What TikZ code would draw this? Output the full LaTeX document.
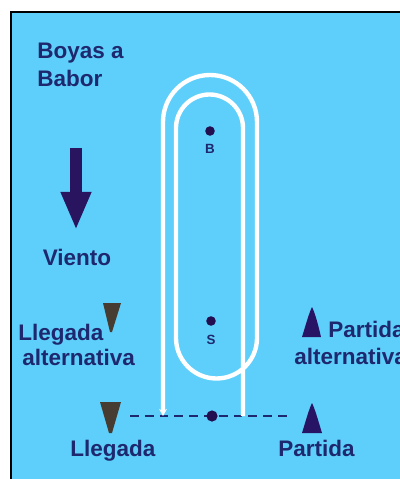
\documentclass[tikz,border=0pt]{standalone}
\usepackage{fontspec}
\setmainfont{Liberation Sans}
\usetikzlibrary{arrows.meta}
\begin{document}
\begin{tikzpicture}[x=0.025cm, y=-0.025cm,
  lbl/.style={text=navy, font=\bfseries\fontsize{16}{20}\selectfont,
    inner sep=0pt, align=left},
  tiny/.style={text=navy, font=\bfseries\fontsize{9.5}{10}\selectfont, inner sep=0pt},
  course/.style={draw=white, line width=3.1pt},
  buoy/.style={circle, fill=buoyc, inner sep=0pt, minimum size=0.24cm}]
\definecolor{sea}{RGB}{94,207,250}
\definecolor{navy}{RGB}{30,40,110}
\definecolor{windc}{RGB}{40,20,95}
\definecolor{buoyc}{RGB}{35,15,80}
\definecolor{llegc}{RGB}{70,60,50}
\definecolor{partc}{RGB}{40,20,100}

\useasboundingbox (0,0) rectangle (400,479);
\clip (0,0) rectangle (400,479);
\fill[white] (0,0) rectangle (400,479);
\draw[fill=sea, draw=black, line width=1.4pt] (11,12) rectangle (405,485);

\node[lbl, anchor=north west] (boyas) at (37,43) {Boyas a\\Babor};

\coordinate (windtop) at (76,148);
\coordinate (windtip) at (76,230);
\draw[windc, line width=0.3cm, -{Triangle[length=0.95cm, width=0.7cm]}]
  (windtop) -- (windtip);
\node[lbl, anchor=base] (viento) at (77,265) {Viento};

\coordinate (finL) at (130,416);
\coordinate (finR) at (290,416);
\draw[navy, line width=1.4pt, dash pattern=on 0.22cm off 0.15cm] (finL) -- (finR);

\draw[course, -{Stealth[length=5pt, width=5.5pt]}]
  (243,416) -- (243,128) arc[start angle=0, end angle=-180, radius=33.5]
  -- (176,338) arc[start angle=180, end angle=0, radius=40.5]
  -- (257,122) arc[start angle=0, end angle=-180, radius=47]
  -- (163,416);

\node[buoy] (barlovento) at (210,131) {};
\node[tiny] (labelB) at (210,149) {B};
\node[buoy] (sotavento) at (211,321) {};
\node[tiny] (labelS) at (211,340) {S};
\node[buoy, minimum size=0.28cm] (comite) at (212,416) {};

\fill[llegc] (103,303) -- (121,303) -- (112,332) -- (110,332) -- cycle;
\node[lbl, anchor=base west] (llegalt) at (18,340) {Llegada};
\node[lbl, anchor=base west] (llegalt2) at (22,365) {alternativa};

\fill[llegc] (100,402) -- (121,402) -- (112,433) -- (109,433) -- cycle;
\node[lbl, anchor=base west] (llegada) at (70,456) {Llegada};

\fill[partc] (302,337) .. controls (306,324) and (309,313) .. (312,307)
  .. controls (315,313) and (318,324) .. (321,337) -- cycle;
\node[lbl, anchor=base west] (partalt) at (328,337) {Partida};
\node[lbl, anchor=base west] (partalt2) at (294,364) {alternativa};

\fill[partc] (302,433) .. controls (306,420) and (309,409) .. (312,403)
  .. controls (315,409) and (318,420) .. (322,433) -- cycle;
\node[lbl, anchor=base west] (partida) at (278,456) {Partida};

\end{tikzpicture}
\end{document}
